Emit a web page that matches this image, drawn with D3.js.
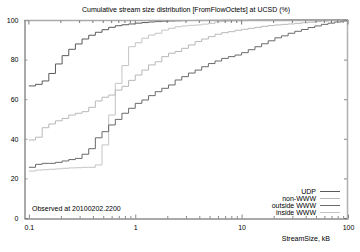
<!DOCTYPE html>
<html>
<head>
<meta charset="utf-8">
<script src="https://cdn.jsdelivr.net/npm/d3@7"></script>
<style>
  body { margin: 0; background: #fff; }
  text { font-family: "Liberation Sans", Arial, sans-serif; font-size: 7px; fill: #000; }
</style>
</head>
<body>
<svg id="chart" width="360" height="252"></svg>
<script>
// stream size bins (kB), 16 per decade
var sizes = [0.1, 0.1155, 0.1334, 0.1540, 0.1778, 0.2054, 0.2371, 0.2738, 0.3162, 0.3652,
  0.4217, 0.4870, 0.5623, 0.6494, 0.7499, 0.8660, 1, 1.155, 1.334, 1.540, 1.778, 2.054,
  2.371, 2.738, 3.162, 3.652, 4.217, 4.870, 5.623, 6.494, 7.499, 8.660, 10, 11.55, 13.34,
  15.40, 17.78, 20.54, 23.71, 27.38, 31.62, 36.52, 42.17, 48.70, 56.23, 64.94, 74.99, 86.60, 100];

var udp = [66.7, 67.5, 69.2, 73, 77.8, 82, 85.2, 87.9, 90.4, 92.3, 93.8, 95.1, 96.3, 97.1,
  97.6, 98, 98.4, 98.7, 99, 99.2, 99.4, 99.5, 99.6, 99.7, 99.75, 99.8, 99.8, 99.85, 99.85,
  99.9, 99.9, 99.9, 99.9, 99.95, 99.95, 99.95, 99.95, 99.95, 100, 100, 100, 100, 100, 100,
  100, 100, 100, 100, 100];

var nonWWW = [39.4, 40.8, 45.6, 47.5, 49.1, 50.3, 52, 52.9, 53.7, 55.9, 59.1, 61, 62.1, 64.6,
  66.5, 69.5, 72.2, 74.7, 77.3, 78.9, 81.5, 83.2, 84.1, 85.7, 87.4, 89.1, 90.4, 91.6, 92.8,
  93.6, 94.1, 94.8, 95.3, 95.8, 96.3, 96.8, 97.2, 97.5, 97.8, 98, 98.3, 98.6, 98.9, 99.2,
  99.5, 99.7, 99.9, 100, 100];

var outsideWWW = [25.6, 27.1, 27.6, 27.6, 28.1, 28.8, 29.5, 30.1, 32.2, 35, 40.5, 43.6, 47,
  49.8, 52.9, 55.4, 57.9, 59.6, 61.8, 63.8, 65.5, 67.2, 69.7, 71.4, 73.2, 74.7, 76.4, 78,
  79.3, 80.6, 81.5, 82.3, 83.5, 85, 86.5, 88, 89.5, 91, 92, 93.3, 94.3, 95.2, 96.2, 97,
  97.8, 98.4, 99, 99.5, 100];

var insideWWW = [23.7, 24.2, 24.4, 24.6, 24.8, 25.1, 25.3, 25.4, 25.6, 25.6, 26.8, 36.9, 52,
  68, 77, 86.5, 88.5, 90.8, 92.4, 93.3, 94.9, 95.8, 96.6, 97, 97.3, 97.5, 97.9, 98.3, 99.1,
  99.3, 99.5, 99.6, 99.7, 99.8, 99.85, 99.9, 99.9, 99.95, 99.95, 100, 100, 100, 100, 100,
  100, 100, 100, 100, 100];

var seriesNames = ["UDP", "non-WWW", "outside WWW", "inside WWW"];
var seriesColors = ["#5a5a5a", "#b8b8b8", "#6a6a6a", "#c4c4c4"];
var seriesValues = [udp, nonWWW, outsideWWW, insideWWW];

var yTicks = [0, 20, 40, 60, 80, 100];
var xLabels = [0.1, 1, 10, 100];

var svg = d3.select("#chart");

var x = d3.scaleLog().domain([0.09, 100]).range([24, 348]);
var y = d3.scaleLinear().domain([0, 100]).range([218, 20]);

// title
svg.append("text")
  .attr("x", 186).attr("y", 12)
  .attr("text-anchor", "middle")
  .text("Cumulative stream size distribution [FromFlowOctets] at UCSD (%)");

// curves (drawn first so the frame sits on top)
var line = d3.line()
  .x(function (d) { return x(d[0]); })
  .y(function (d) { return y(d[1]); })
  .curve(d3.curveStepAfter);

// draw order: light ones under dark ones
[3, 1, 2, 0].forEach(function (i) {
  var pts = sizes.map(function (s, j) { return [s, seriesValues[i][j]]; });
  svg.append("path")
    .attr("d", line(pts))
    .attr("fill", "none")
    .attr("stroke", seriesColors[i])
    .attr("stroke-width", 1);
});

// frame: top/right light, left/bottom dark
svg.append("line").attr("x1", 24).attr("x2", 348).attr("y1", 20.5).attr("y2", 20.5)
  .attr("stroke", "#aaa").attr("stroke-width", 1.5);
svg.append("line").attr("x1", 347.5).attr("x2", 347.5).attr("y1", 20).attr("y2", 218)
  .attr("stroke", "#b0b0b0").attr("stroke-width", 1.5);

// y axis left
var yAxis = d3.axisLeft(y).tickValues(yTicks).tickSize(-3).tickPadding(6)
  .tickFormat(d3.format("d"));
var gy = svg.append("g").attr("transform", "translate(24.5,0)").call(yAxis);
gy.select(".domain").attr("stroke", "#555");
gy.selectAll(".tick line").attr("stroke", "#999");
gy.selectAll("text").style("font-size", "7px");

// y axis right ticks
var gyr = svg.append("g").attr("transform", "translate(347,0)")
  .call(d3.axisRight(y).tickValues(yTicks).tickSize(-3).tickFormat(""));
gyr.select(".domain").remove();
gyr.selectAll(".tick line").attr("stroke", "#888");

// x axis bottom with log minor ticks
var xTickVals = x.ticks().filter(function (d) { return d >= 0.1; });
var gx = svg.append("g").attr("transform", "translate(0,218.5)")
  .call(d3.axisBottom(x).tickValues(xTickVals).tickSize(0).tickPadding(7)
    .tickFormat(function (d) { return xLabels.indexOf(d) >= 0 ? d3.format("~g")(d) : ""; }));
gx.select(".domain").attr("stroke", "#555");
gx.selectAll("text").style("font-size", "7px");
gx.selectAll(".tick").append("line")
  .attr("y1", 0)
  .attr("y2", function (d) { return xLabels.indexOf(d) >= 0 ? -4 : -2.5; })
  .attr("stroke", "#888");

// x axis top ticks
var gxt = svg.append("g").attr("transform", "translate(0,20.5)");
gxt.selectAll("line").data(xTickVals).join("line")
  .attr("x1", function (d) { return x(d); })
  .attr("x2", function (d) { return x(d); })
  .attr("y1", 0)
  .attr("y2", function (d) { return xLabels.indexOf(d) >= 0 ? 4 : 2.5; })
  .attr("stroke", "#777");

// x axis title
svg.append("text")
  .attr("x", 330).attr("y", 241)
  .attr("text-anchor", "end")
  .text("StreamSize, kB");

// observed note
svg.append("text")
  .attr("x", 32).attr("y", 211)
  .text("Observed at 20100202.2200");

// legend
var legend = svg.append("g");
seriesNames.forEach(function (name, i) {
  var ly = 191 + i * 7;
  legend.append("text")
    .attr("x", 316).attr("y", ly + 2.5)
    .attr("text-anchor", "end")
    .text(name);
  legend.append("line")
    .attr("x1", 320).attr("x2", 340)
    .attr("y1", ly + 0.5).attr("y2", ly + 0.5)
    .attr("stroke", seriesColors[i]);
});
</script>
</body>
</html>
